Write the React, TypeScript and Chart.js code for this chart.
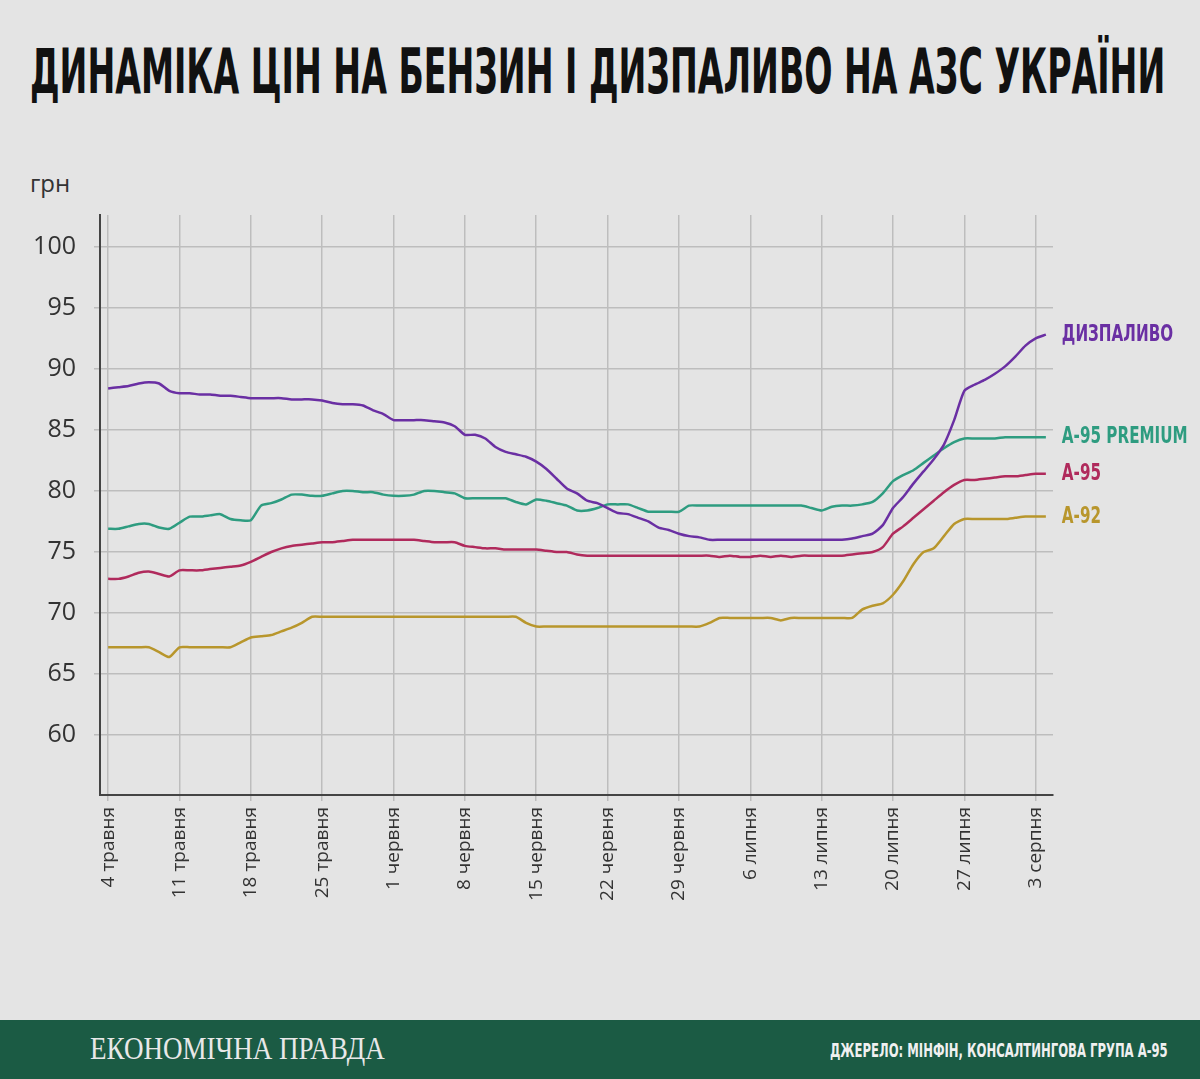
import React, { useEffect, useRef } from "react";
import { Chart, registerables } from "chart.js";
Chart.register(...registerables);

const tickLabels = ["4 травня","11 травня","18 травня","25 травня","1 червня","8 червня","15 червня","22 червня","29 червня","6 липня","13 липня","20 липня","27 липня","3 серпня"];
const seriesNames = ["ДИЗПАЛИВО","А-95 PREMIUM","А-95","А-92"];
const seriesColors = ["#6a2fa3","#2e9c80","#b02a5c","#b8962c"];

const diesel = [88.4,88.5,88.6,88.8,88.9,88.8,88.2,88.0,88.0,87.9,87.9,87.8,87.8,87.7,87.6,87.6,87.6,87.6,87.5,87.5,87.5,87.4,87.2,87.1,87.1,87.0,86.6,86.3,85.8,85.8,85.8,85.8,85.7,85.6,85.3,84.6,84.6,84.3,83.6,83.2,83.0,82.8,82.4,81.8,81.0,80.2,79.8,79.2,79.0,78.6,78.2,78.1,77.8,77.5,77.0,76.8,76.5,76.3,76.2,76.0,76.0,76.0,76.0,76.0,76.0,76.0,76.0,76.0,76.0,76.0,76.0,76.0,76.0,76.1,76.3,76.5,77.2,78.6,79.5,80.6,81.6,82.6,83.8,85.8,88.2,88.7,89.1,89.6,90.2,91.0,91.9,92.5,92.8];
const premium = [76.9,76.9,77.1,77.3,77.3,77.0,76.9,77.4,77.9,77.9,78.0,78.1,77.7,77.6,77.6,78.8,79.0,79.3,79.7,79.7,79.6,79.6,79.8,80.0,80.0,79.9,79.9,79.7,79.6,79.6,79.7,80.0,80.0,79.9,79.8,79.4,79.4,79.4,79.4,79.4,79.1,78.9,79.3,79.2,79.0,78.8,78.4,78.4,78.6,78.9,78.9,78.9,78.6,78.3,78.3,78.3,78.3,78.8,78.8,78.8,78.8,78.8,78.8,78.8,78.8,78.8,78.8,78.8,78.8,78.6,78.4,78.7,78.8,78.8,78.9,79.1,79.8,80.8,81.3,81.7,82.3,82.9,83.5,84.0,84.3,84.3,84.3,84.3,84.4,84.4,84.4,84.4,84.4];
const a95 = [72.8,72.8,73.0,73.3,73.4,73.2,73.0,73.5,73.5,73.5,73.6,73.7,73.8,73.9,74.2,74.6,75.0,75.3,75.5,75.6,75.7,75.8,75.8,75.9,76.0,76.0,76.0,76.0,76.0,76.0,76.0,75.9,75.8,75.8,75.8,75.5,75.4,75.3,75.3,75.2,75.2,75.2,75.2,75.1,75.0,75.0,74.8,74.7,74.7,74.7,74.7,74.7,74.7,74.7,74.7,74.7,74.7,74.7,74.7,74.7,74.6,74.7,74.6,74.6,74.7,74.6,74.7,74.6,74.7,74.7,74.7,74.7,74.7,74.8,74.9,75.0,75.4,76.5,77.1,77.8,78.5,79.2,79.9,80.5,80.9,80.9,81.0,81.1,81.2,81.2,81.3,81.4,81.4];
const a92 = [67.2,67.2,67.2,67.2,67.2,66.8,66.4,67.2,67.2,67.2,67.2,67.2,67.2,67.6,68.0,68.1,68.2,68.5,68.8,69.2,69.7,69.7,69.7,69.7,69.7,69.7,69.7,69.7,69.7,69.7,69.7,69.7,69.7,69.7,69.7,69.7,69.7,69.7,69.7,69.7,69.7,69.2,68.9,68.9,68.9,68.9,68.9,68.9,68.9,68.9,68.9,68.9,68.9,68.9,68.9,68.9,68.9,68.9,68.9,69.2,69.6,69.6,69.6,69.6,69.6,69.6,69.4,69.6,69.6,69.6,69.6,69.6,69.6,69.6,70.3,70.6,70.8,71.5,72.6,74.0,75.0,75.3,76.3,77.3,77.7,77.7,77.7,77.7,77.7,77.8,77.9,77.9,77.9];

const allSeries = [diesel, premium, a95, a92];
const bold = "'DejaVu Sans', sans-serif";

const endLabels = {
  id: "endLabels",
  afterDatasetsDraw(chart: any) {
    const ctx = chart.ctx;
    ctx.save();
    ctx.font = `bold 23px ${bold}`;
    ctx.textBaseline = "middle";
    chart.data.datasets.forEach((ds: any, i: number) => {
      const meta = chart.getDatasetMeta(i);
      const pt = meta.data[meta.data.length - 1];
      ctx.save();
      ctx.translate(pt.x + 16, pt.y);
      ctx.scale(0.66, 1);
      ctx.fillStyle = ds.borderColor;
      ctx.fillText(ds.label, 0, 0);
      ctx.restore();
    });
    ctx.restore();
  },
};

function Fit({ width, style, children }: any) {
  const r = useRef<HTMLDivElement>(null);
  useEffect(() => {
    const el = r.current!;
    el.style.transform = "none";
    const w = el.scrollWidth;
    el.style.transform = `scaleX(${width / w})`;
  }, []);
  return <div ref={r} style={{ position: "absolute", whiteSpace: "nowrap", transformOrigin: "left top", display: "inline-block", ...style }}>{children}</div>;
}

export default function App() {
  const ref = useRef<HTMLCanvasElement>(null);
  useEffect(() => {
    const chart = new Chart(ref.current!, {
      type: "line",
      data: {
        datasets: allSeries.map((s, i) => ({
          label: seriesNames[i],
          data: s.map((v, d) => ({ x: d, y: v })),
          borderColor: seriesColors[i],
          borderWidth: 2.5,
          pointRadius: 0,
          tension: 0.2,
        })),
      },
      options: {
        animation: false,
        responsive: false,
        layout: { padding: { left: 0, right: 147, top: 215, bottom: 0 } },
        plugins: { legend: { display: false }, tooltip: { enabled: false } },
        scales: {
          x: {
            type: "linear",
            min: -0.8,
            max: 92.7,
            afterBuildTicks: (a: any) => { a.ticks = tickLabels.map((_, i) => ({ value: i * 7 })); },
            afterFit: (a: any) => { a.height = 205; },
            grid: { color: "#bdbdbd", lineWidth: 1.5, tickLength: 6 },
            border: { color: "#444", width: 2 },
            ticks: {
              maxRotation: 90, minRotation: 90, autoSkip: false, padding: 6,
              color: "#333", font: { family: "'Open Sans', sans-serif", size: 19 },
              callback: (v: any) => tickLabels[Math.round(v / 7)],
            },
          },
          y: {
            min: 55.1,
            max: 102.6,
            afterBuildTicks: (a: any) => { a.ticks = [60,65,70,75,80,85,90,95,100].map(v => ({ value: v })); },
            afterFit: (a: any) => { a.width = 100; },
            grid: { color: "#bdbdbd", lineWidth: 1.5, tickLength: 6 },
            border: { color: "#444", width: 2 },
            ticks: { color: "#333", padding: 18, font: { family: "'Open Sans', sans-serif", size: 25 } },
          },
        },
      },
      plugins: [endLabels],
    } as any);
    return () => chart.destroy();
  }, []);
  return (
    <div style={{ position: "absolute", left: 0, top: 0, width: 1200, height: 1079, background: "#e4e4e4", overflow: "hidden" }}>
      <Fit width={1135} style={{ left: 30, top: 36, fontFamily: bold, fontWeight: "bold", fontSize: 62, color: "#111", lineHeight: "72px" }}>
        ДИНАМІКА ЦІН НА БЕНЗИН І ДИЗПАЛИВО НА АЗС УКРАЇНИ
      </Fit>
      <div style={{ position: "absolute", left: 30, top: 166, fontFamily: "'Open Sans', sans-serif", fontSize: 24, color: "#333" }}>грн</div>
      <canvas ref={ref} width={1200} height={1000} style={{ position: "absolute", left: 0, top: 0 }} />
      <div style={{ position: "absolute", left: 0, top: 1020, width: 1200, height: 59, background: "#1b5b44" }}>
        <Fit width={295} style={{ left: 90, top: 11, fontFamily: "'Liberation Serif', serif", fontSize: 31, color: "#e8e8e8", lineHeight: "36px" }}>ЕКОНОМІЧНА ПРАВДА</Fit>
        <Fit width={338} style={{ left: 830, top: 19, fontFamily: bold, fontWeight: "bold", fontSize: 19, color: "#f0f0f0", lineHeight: "22px" }}>ДЖЕРЕЛО: МІНФІН, КОНСАЛТИНГОВА ГРУПА А-95</Fit>
      </div>
    </div>
  );
}
